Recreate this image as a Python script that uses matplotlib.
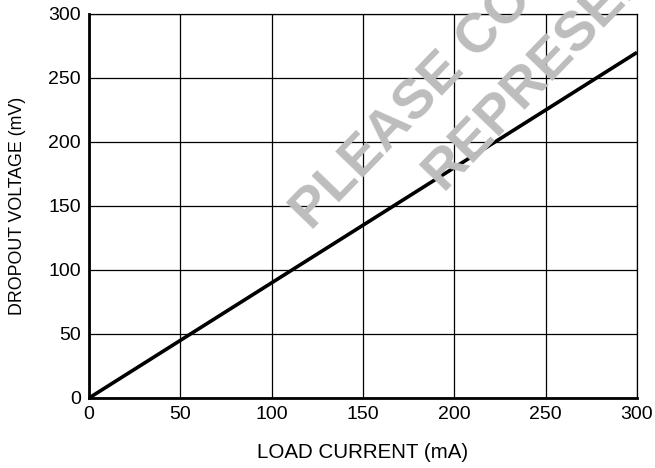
import matplotlib
matplotlib.use("Agg")
import matplotlib.pyplot as plt

plt.rcParams['font.family'] = ['Liberation Sans', 'DejaVu Sans']

load_current = [0, 300]
dropout_voltage = [0, 270]
x_ticks = [0, 50, 100, 150, 200, 250, 300]
y_ticks = [0, 50, 100, 150, 200, 250, 300]

fig = plt.figure(figsize=(6.55, 4.68), dpi=100)
ax = fig.add_axes([89/655, 70/468, (637-89)/655, (398-14)/468])

ax.plot(load_current, dropout_voltage, color='black', lw=2.6, zorder=4,
        solid_capstyle='butt', clip_on=False)
ax.set_xlim(0, 300)
ax.set_ylim(0, 300)
ax.set_xticks(x_ticks)
ax.set_yticks(y_ticks)
ax.grid(True, color='black', lw=0.9, zorder=2)
ax.set_axisbelow(False)
for s in ax.spines.values():
    s.set_linewidth(0.9)
ax.spines['left'].set_linewidth(2.0)
ax.spines['bottom'].set_linewidth(2.0)
ax.tick_params(length=0, labelsize=14, pad=6)
ax.set_xlabel('LOAD CURRENT (mA)', fontsize=14.8, labelpad=14)
ax.set_ylabel('DROPOUT VOLTAGE (mV)', fontsize=12.8, labelpad=16)

# watermark
def px(x, y):
    return (x / 655, 1 - y / 468)

fig.text(*px(312, 232), 'PLEASE CONSULT', color='#bdbdbd', fontsize=40,
         fontweight='bold', rotation=46, rotation_mode='anchor',
         ha='left', va='baseline', zorder=0.5)
fig.text(*px(443, 192), 'REPRESENTATIVE', color='#bdbdbd', fontsize=40,
         fontweight='bold', rotation=46, rotation_mode='anchor',
         ha='left', va='baseline', zorder=0.5)
ax.patch.set_alpha(0)

fig.savefig('out.png', dpi=100)
